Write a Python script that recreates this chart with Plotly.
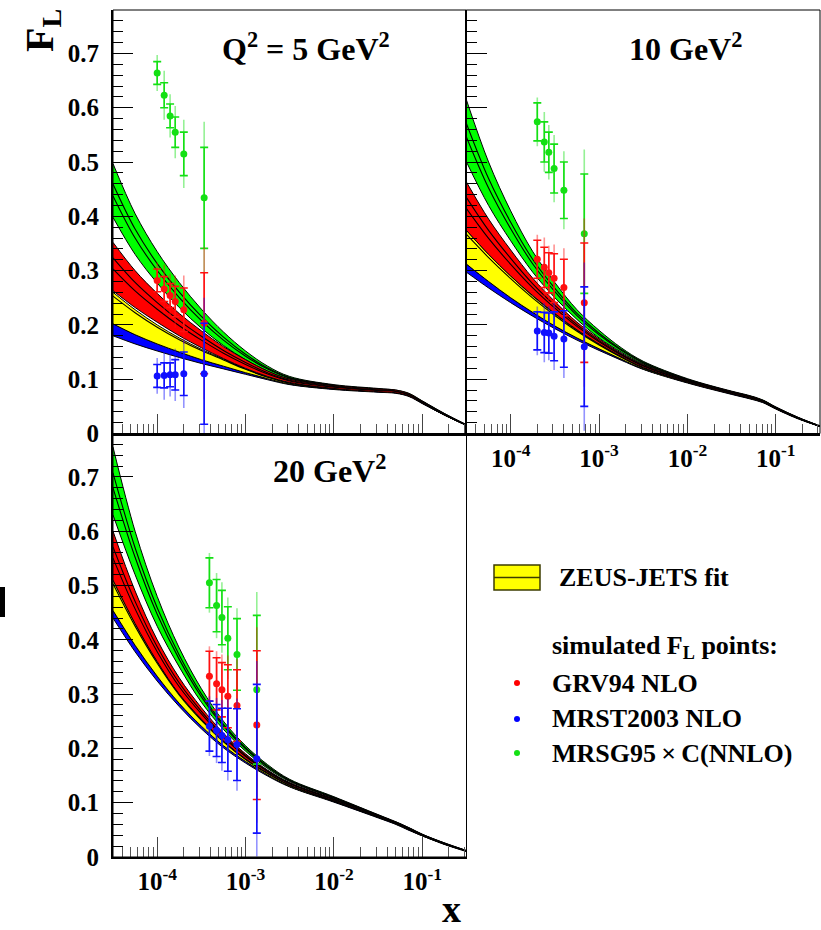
import plotly.graph_objects as go

# ---------------------------------------------------------------
# F_L predictions from the ZEUS-JETS fit to simulated data,
# tabulated on a log-x grid for Q^2 = 5, 10, 20 GeV^2
# ---------------------------------------------------------------
log_x_nodes = [-4.5, -4.25, -4.0, -3.75, -3.5, -3.25, -3.0, -2.75,
               -2.5, -2.0, -1.5, -1.3, -1.15, -1.0, -0.75, -0.5]
x_nodes = [10 ** v for v in log_x_nodes]

# Q^2 = 5 GeV^2
q5_mrsg_hi = [0.497, 0.405, 0.335, 0.278, 0.229, 0.187, 0.152, 0.124, 0.105, 0.090, 0.083, 0.080, 0.074, 0.060, 0.037, 0.016]
q5_mrsg_lo = [0.398, 0.330, 0.277, 0.232, 0.194, 0.162, 0.136, 0.115, 0.100, 0.087, 0.080, 0.077, 0.071, 0.058, 0.035, 0.015]
q5_grv_hi  = [0.352, 0.300, 0.258, 0.221, 0.189, 0.160, 0.136, 0.115, 0.100, 0.088, 0.082, 0.080, 0.073, 0.059, 0.036, 0.016]
q5_grv_lo  = [0.263, 0.232, 0.205, 0.180, 0.158, 0.138, 0.120, 0.105, 0.094, 0.083, 0.077, 0.075, 0.069, 0.056, 0.034, 0.015]
q5_zeus_hi = [0.260, 0.228, 0.200, 0.176, 0.155, 0.137, 0.119, 0.104, 0.093, 0.083, 0.078, 0.076, 0.070, 0.057, 0.035, 0.015]
q5_zeus_lo = [0.202, 0.182, 0.165, 0.150, 0.136, 0.124, 0.112, 0.101, 0.091, 0.082, 0.077, 0.075, 0.069, 0.056, 0.034, 0.015]
q5_mrst_hi = [0.202, 0.182, 0.165, 0.150, 0.136, 0.124, 0.112, 0.101, 0.091, 0.082, 0.077, 0.075, 0.069, 0.056, 0.034, 0.015]
q5_mrst_lo = [0.180, 0.165, 0.152, 0.140, 0.129, 0.119, 0.109, 0.099, 0.090, 0.081, 0.076, 0.074, 0.068, 0.055, 0.034, 0.015]

# Q^2 = 10 GeV^2
q10_mrsg_hi = [0.614, 0.500, 0.410, 0.335, 0.278, 0.228, 0.190, 0.158, 0.133, 0.101, 0.078, 0.070, 0.062, 0.049, 0.030, 0.014]
q10_mrsg_lo = [0.500, 0.420, 0.355, 0.297, 0.250, 0.210, 0.176, 0.150, 0.128, 0.098, 0.076, 0.068, 0.060, 0.047, 0.029, 0.013]
q10_grv_hi  = [0.463, 0.395, 0.338, 0.286, 0.243, 0.205, 0.174, 0.148, 0.127, 0.098, 0.077, 0.069, 0.061, 0.048, 0.029, 0.014]
q10_grv_lo  = [0.374, 0.330, 0.290, 0.254, 0.221, 0.191, 0.165, 0.142, 0.122, 0.095, 0.074, 0.066, 0.059, 0.046, 0.028, 0.013]
q10_zeus_hi = [0.374, 0.330, 0.290, 0.253, 0.220, 0.190, 0.164, 0.141, 0.121, 0.095, 0.074, 0.066, 0.059, 0.046, 0.028, 0.013]
q10_zeus_lo = [0.312, 0.280, 0.250, 0.223, 0.198, 0.176, 0.156, 0.137, 0.119, 0.094, 0.073, 0.065, 0.058, 0.046, 0.028, 0.013]
q10_mrst_hi = [0.312, 0.280, 0.250, 0.223, 0.198, 0.176, 0.156, 0.137, 0.119, 0.094, 0.073, 0.065, 0.058, 0.046, 0.028, 0.013]
q10_mrst_lo = [0.297, 0.268, 0.241, 0.216, 0.193, 0.172, 0.153, 0.135, 0.118, 0.093, 0.072, 0.064, 0.057, 0.045, 0.027, 0.013]

# Q^2 = 20 GeV^2
q20_mrsg_hi = [0.755, 0.600, 0.480, 0.385, 0.310, 0.250, 0.205, 0.170, 0.143, 0.111, 0.078, 0.065, 0.054, 0.042, 0.026, 0.012]
q20_mrsg_lo = [0.630, 0.520, 0.425, 0.350, 0.285, 0.235, 0.195, 0.163, 0.139, 0.108, 0.076, 0.063, 0.052, 0.041, 0.025, 0.011]
q20_grv_hi  = [0.600, 0.490, 0.400, 0.330, 0.275, 0.228, 0.190, 0.160, 0.137, 0.107, 0.077, 0.064, 0.053, 0.041, 0.025, 0.011]
q20_grv_lo  = [0.510, 0.430, 0.360, 0.300, 0.254, 0.214, 0.181, 0.155, 0.133, 0.104, 0.075, 0.062, 0.051, 0.040, 0.024, 0.011]
q20_zeus_hi = [0.510, 0.430, 0.360, 0.300, 0.253, 0.213, 0.180, 0.154, 0.132, 0.103, 0.074, 0.062, 0.051, 0.040, 0.024, 0.011]
q20_zeus_lo = [0.454, 0.390, 0.333, 0.283, 0.241, 0.205, 0.176, 0.151, 0.130, 0.102, 0.073, 0.061, 0.050, 0.039, 0.024, 0.011]
q20_mrst_hi = [0.454, 0.390, 0.333, 0.283, 0.241, 0.205, 0.176, 0.151, 0.130, 0.102, 0.073, 0.061, 0.050, 0.039, 0.024, 0.011]
q20_mrst_lo = [0.440, 0.378, 0.324, 0.277, 0.236, 0.201, 0.173, 0.149, 0.129, 0.101, 0.072, 0.060, 0.049, 0.039, 0.023, 0.010]

# ---------------------------------------------------------------
# Simulated F_L points (stat = inner error, tot = full error)
# ---------------------------------------------------------------
q5_x    = [1.0e-4, 1.2e-4, 1.4e-4, 1.6e-4, 2.0e-4, 3.4e-4]
q5_grv  = [0.282, 0.266, 0.254, 0.243, 0.228, 0.203]
q5_mrst = [0.106, 0.107, 0.108, 0.108, 0.110, 0.110]
q5_mrsg = [0.664, 0.623, 0.585, 0.555, 0.515, 0.434]
q5_stat = [0.021, 0.023, 0.022, 0.028, 0.040, 0.093]
q5_tot  = [0.033, 0.045, 0.040, 0.048, 0.063, 0.140]

q10_x    = [2.0e-4, 2.4e-4, 2.7e-4, 3.1e-4, 4.0e-4, 6.8e-4]
q10_grv  = [0.321, 0.306, 0.296, 0.286, 0.269, 0.241]
q10_mrst = [0.189, 0.186, 0.185, 0.179, 0.174, 0.160]
q10_mrsg = [0.574, 0.537, 0.518, 0.488, 0.448, 0.368]
q10_stat = [0.035, 0.037, 0.037, 0.045, 0.052, 0.110]
q10_tot  = [0.045, 0.055, 0.050, 0.062, 0.072, 0.155]

q20_x    = [3.9e-4, 4.7e-4, 5.4e-4, 6.3e-4, 8.0e-4, 1.34e-3]
q20_grv  = [0.333, 0.319, 0.308, 0.296, 0.279, 0.243]
q20_mrst = [0.241, 0.233, 0.224, 0.216, 0.207, 0.181]
q20_mrsg = [0.505, 0.463, 0.441, 0.403, 0.373, 0.308]
q20_stat = [0.046, 0.048, 0.050, 0.058, 0.066, 0.137]
q20_tot  = [0.055, 0.060, 0.065, 0.075, 0.085, 0.180]

x_major = [1e-4, 1e-3, 1e-2, 1e-1]
x_major_text = ["10<sup>-4</sup>", "10<sup>-3</sup>", "10<sup>-2</sup>", "10<sup>-1</sup>"]
panel_titles = ["Q<sup>2</sup> = 5 GeV<sup>2</sup>", "10 GeV<sup>2</sup>", "20 GeV<sup>2</sup>"]

# ---------------------------------------------------------------
FONT = "Liberation Serif"
W, H = 821, 930
ML, MR, MT, MB = 113, 1, 10, 73

GREEN, RED, YELLOW, BLUE = "#00ff00", "#ff0000", "#ffff00", "#0000ff"
PT_COL = {"mrsg": ("#14e014", "rgba(20,224,20,0.45)"),
          "grv": ("#ff1010", "rgba(255,16,16,0.45)"),
          "mrst": ("#1010ff", "rgba(16,16,255,0.45)")}


def px(xp, yp):
    """Pixel position -> paper coordinates."""
    return (xp - ML) / (W - ML - MR), (H - MB - yp) / (H - MT - MB)


fig = go.Figure()


def line_trace(xs, ys, xa, ya, width=1.0, fill=None, fillcolor=None):
    fig.add_trace(go.Scatter(
        x=xs, y=ys, mode="lines", xaxis=xa, yaxis=ya,
        line=dict(color="black", width=width, shape="spline", smoothing=1.0),
        fill=fill, fillcolor=fillcolor, showlegend=False, hoverinfo="skip"))


def add_band(lo, hi, color, inner, xa, ya):
    line_trace(x_nodes, lo, xa, ya)
    line_trace(x_nodes, hi, xa, ya, fill="tonexty", fillcolor=color)
    for f in inner:
        mid = [l + f * (h - l) for l, h in zip(lo, hi)]
        line_trace(x_nodes, mid, xa, ya, width=1.1)


def add_points(xs, ys, stat, tot, key, xa, ya):
    solid, light = PT_COL[key]
    fig.add_trace(go.Scatter(
        x=xs, y=ys, mode="markers", xaxis=xa, yaxis=ya,
        marker=dict(size=1, color=light, opacity=0),
        error_y=dict(type="data", array=tot, color=light, thickness=1.6, width=0),
        showlegend=False, hoverinfo="skip"))
    fig.add_trace(go.Scatter(
        x=xs, y=ys, mode="markers", xaxis=xa, yaxis=ya,
        marker=dict(size=7, color=solid),
        error_y=dict(type="data", array=stat, color=solid, thickness=1.6, width=4),
        showlegend=False, hoverinfo="skip"))


panels = [
    ("x", "y", (q5_mrsg_lo, q5_mrsg_hi, q5_grv_lo, q5_grv_hi, q5_zeus_lo, q5_zeus_hi, q5_mrst_lo, q5_mrst_hi),
     (q5_x, q5_grv, q5_mrst, q5_mrsg, q5_stat, q5_tot)),
    ("x2", "y2", (q10_mrsg_lo, q10_mrsg_hi, q10_grv_lo, q10_grv_hi, q10_zeus_lo, q10_zeus_hi, q10_mrst_lo, q10_mrst_hi),
     (q10_x, q10_grv, q10_mrst, q10_mrsg, q10_stat, q10_tot)),
    ("x3", "y3", (q20_mrsg_lo, q20_mrsg_hi, q20_grv_lo, q20_grv_hi, q20_zeus_lo, q20_zeus_hi, q20_mrst_lo, q20_mrst_hi),
     (q20_x, q20_grv, q20_mrst, q20_mrsg, q20_stat, q20_tot)),
]

for xa, ya, bands, pts in panels:
    g_lo, g_hi, r_lo, r_hi, z_lo, z_hi, b_lo, b_hi = bands
    add_band(b_lo, b_hi, BLUE, [], xa, ya)
    add_band(z_lo, z_hi, YELLOW, [0.88], xa, ya)
    add_band(g_lo, g_hi, GREEN, [0.4, 0.62], xa, ya)
    add_band(r_lo, r_hi, RED, [0.45, 0.68], xa, ya)
    xs, grv, mrst, mrsg, stat, tot = pts
    add_points(xs, mrsg, stat, tot, "mrsg", xa, ya)
    add_points(xs, grv, stat, tot, "grv", xa, ya)
    add_points(xs, mrst, stat, tot, "mrst", xa, ya)

# ---------------------------------------------------------------
# Axes
# ---------------------------------------------------------------
minor_x = [m * 10 ** e for e in range(-5, 0) for m in range(2, 10)]


def xaxis(domain, anchor, labels):
    return dict(type="log", range=[-4.5, -0.5], domain=domain, anchor=anchor,
                showgrid=False, zeroline=False, showline=True, linecolor="black", linewidth=2,
                ticks="inside", ticklen=20, tickwidth=1, tickcolor="#444",
                tickvals=x_major, ticktext=x_major_text, showticklabels=labels,
                tickfont=dict(family=FONT, size=25, color="black", weight="bold"),
                ticklabelstandoff=1,
                minor=dict(tickvals=minor_x, ticks="inside", ticklen=10, tickwidth=1, tickcolor="#555"))


def yaxis(domain, anchor, labels):
    return dict(range=[0, 0.78], domain=domain, anchor=anchor,
                showgrid=False, zeroline=False, showline=True, linecolor="black", linewidth=2,
                ticks="inside", ticklen=20, tickwidth=1.3, tickcolor="black",
                tick0=0, dtick=0.1, showticklabels=labels,
                tickfont=dict(family=FONT, size=25, color="black", weight="bold"),
                ticklabelstandoff=7,
                minor=dict(dtick=0.02, ticks="inside", ticklen=10, tickwidth=1.3, tickcolor="black"))


fig.update_layout(
    xaxis=xaxis([0, 0.5], "y", False),
    yaxis=yaxis([0.5, 1], "x", True),
    xaxis2=xaxis([0.5, 1], "y2", True),
    yaxis2=yaxis([0.5, 1], "x2", False),
    xaxis3=xaxis([0, 0.5], "y3", True),
    yaxis3=yaxis([0, 0.5], "x3", True),
)

shapes = []
# thin frame around each pad
for xa, ya in [("x", "y"), ("x2", "y2"), ("x3", "y3")]:
    shapes.append(dict(type="rect", xref=f"{xa} domain", yref=f"{ya} domain",
                       x0=0, x1=1, y0=0, y1=1, line=dict(color="black", width=1)))

annotations = []
# pad titles
for title, (tx, ty) in zip(panel_titles, [(220, 47), (627, 47), (271, 469)]):
    ax_, ay_ = px(tx, ty)
    annotations.append(dict(text=title, xref="paper", yref="paper", x=ax_, y=ay_,
                            xanchor="left", yanchor="middle", showarrow=False,
                            font=dict(family=FONT, size=32, color="black", weight="bold")))

# axis titles
fx, fy = px(42, 31)
annotations.append(dict(text="F<sub>L</sub>", xref="paper", yref="paper", x=fx, y=fy,
                        textangle=-90, showarrow=False, xanchor="center", yanchor="middle",
                        font=dict(family=FONT, size=40, color="black", weight="bold")))
xx, xy = px(451, 909)
annotations.append(dict(text="x", xref="paper", yref="paper", x=xx, y=xy,
                        showarrow=False, xanchor="center", yanchor="middle",
                        font=dict(family=FONT, size=38, color="black", weight="bold")))

# stray bar on the left margin
b0 = px(0, 617)
b1 = px(5, 587)
shapes.append(dict(type="rect", xref="paper", yref="paper", x0=b0[0], y0=b0[1], x1=b1[0], y1=b1[1],
                   fillcolor="black", line=dict(width=0)))

# key: fit band
k0 = px(494, 590)
k1 = px(540, 565)
shapes.append(dict(type="rect", xref="paper", yref="paper", x0=k0[0], y0=k0[1], x1=k1[0], y1=k1[1],
                   fillcolor=YELLOW, line=dict(color="#3c3c00", width=1.5)))
km = px(494, 577.5)
shapes.append(dict(type="line", xref="paper", yref="paper", x0=k0[0], x1=k1[0], y0=km[1], y1=km[1],
                   line=dict(color="#3c3c00", width=1.5)))

key_font = dict(family=FONT, size=26, color="black", weight="bold")
for text, (tx, ty) in [("ZEUS-JETS fit", (557, 577)),
                       ("simulated F<sub>L</sub> points:", (550, 647)),
                       ("GRV94 NLO", (550, 683)),
                       ("MRST2003 NLO", (550, 718)),
                       ("MRSG95\u2009\u00d7\u2009C(NNLO)", (550, 753))]:
    ax_, ay_ = px(tx, ty)
    annotations.append(dict(text=text, xref="paper", yref="paper", x=ax_, y=ay_,
                            xanchor="left", yanchor="middle", showarrow=False, font=key_font))

for col, ty in [(RED, 683), (BLUE, 719), ("#14e014", 753)]:
    c0 = px(514, ty + 3)
    c1 = px(520, ty - 3)
    shapes.append(dict(type="circle", xref="paper", yref="paper", x0=c0[0], y0=c0[1], x1=c1[0], y1=c1[1],
                       fillcolor=col, line=dict(width=0)))

fig.update_layout(
    width=W, height=H,
    margin=dict(l=ML, r=MR, t=MT, b=MB),
    paper_bgcolor="white", plot_bgcolor="white",
    showlegend=False,
    shapes=shapes, annotations=annotations,
    font=dict(family=FONT, color="black"),
)

fig.write_html("out.html")
